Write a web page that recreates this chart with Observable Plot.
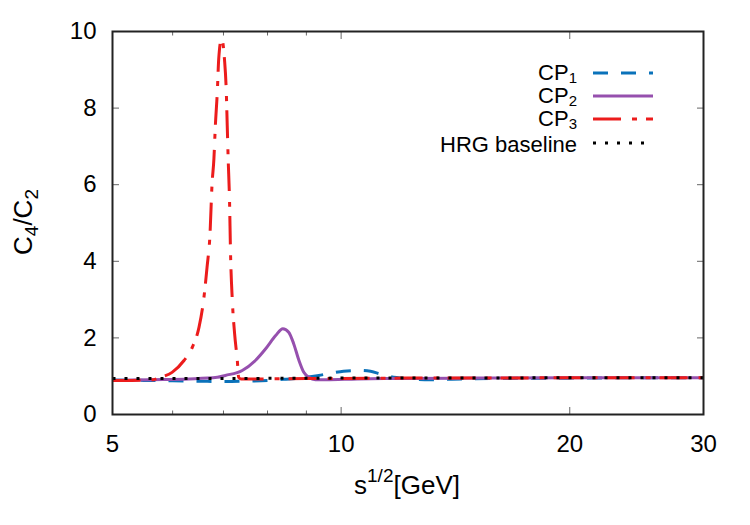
<!DOCTYPE html>
<html>
<head>
<meta charset="utf-8">
<script src="https://cdn.jsdelivr.net/npm/d3@7"></script>
<script src="https://cdn.jsdelivr.net/npm/@observablehq/plot@0.6"></script>
<style>
  html, body { margin: 0; padding: 0; background: #fff; }
  #chart svg { display: block; }
</style>
</head>
<body>
<div id="chart"></div>
<script>
// C4/C2 versus collision energy for three critical-point scenarios and the HRG baseline
const cp1Energy = [5.0, 5.5, 6.0, 6.5, 7.0, 7.5, 8.0, 8.4, 8.84, 9.34, 9.77, 10.07, 10.54, 10.93, 11.2, 11.61, 12.16, 13.1, 14.0, 16.0, 20.0, 25.0, 30.0];
const cp1Ratio  = [0.90, 0.89, 0.88, 0.87, 0.86, 0.87, 0.89, 0.92, 0.95, 1.02, 1.09, 1.13, 1.15, 1.13, 1.07, 0.99, 0.94, 0.91, 0.92, 0.94, 0.95, 0.96, 0.96];

const cp2Energy = [5.0, 5.61, 6.3, 6.87, 7.04, 7.41, 7.71, 7.95, 8.20, 8.38, 8.53, 8.66, 8.80, 8.93, 9.07, 9.25, 9.54, 10.5, 12.0, 15.0, 20.0, 30.0];
const cp2Ratio  = [0.89, 0.91, 0.93, 0.97, 1.02, 1.15, 1.41, 1.71, 2.06, 2.24, 2.15, 1.85, 1.41, 1.10, 0.97, 0.91, 0.91, 0.93, 0.94, 0.95, 0.96, 0.96];

const cp3Energy = [5.0, 5.3, 5.66, 5.78, 5.99, 6.21, 6.37, 6.50, 6.59, 6.66, 6.72, 6.76, 6.80, 6.83, 6.87, 6.90, 6.96, 7.02, 7.06, 7.08, 7.10, 7.13, 7.15, 7.19, 7.24, 7.30, 7.33, 7.38, 8.0, 9.0, 10.0, 12.0, 15.0, 20.0, 30.0];
const cp3Ratio  = [0.89, 0.89, 0.91, 0.97, 1.10, 1.41, 1.76, 2.28, 2.98, 3.85, 4.72, 5.98, 6.68, 7.55, 8.42, 9.29, 9.82, 9.29, 8.42, 7.55, 6.68, 5.56, 4.28, 2.98, 2.11, 1.41, 0.97, 0.93, 0.93, 0.94, 0.94, 0.95, 0.95, 0.96, 0.96];

const hrgEnergy = [5.0, 7.0, 10.0, 15.0, 20.0, 30.0];
const hrgRatio  = [0.94, 0.94, 0.95, 0.95, 0.96, 0.96];

const xMajorTicks = [5, 10, 20, 30];
const xMinorTicks = [6, 7, 8, 9];
const yTicks = [0, 2, 4, 6, 8, 10];
const legendNames = [["CP", "1"], ["CP", "2"], ["CP", "3"], ["HRG baseline", ""]];

const rows = (xs, ys) => xs.map((x, i) => ({x, y: ys[i]}));

// line styles, in legend order
const styles = [
  {stroke: "#0a72ba", dash: "15,13"},
  {stroke: "#9650ae", dash: null},
  {stroke: "#ec1c1c", dash: "28,11,5,9"},
  {stroke: "#000000", dash: "3,9"}
];
const series = [
  rows(cp1Energy, cp1Ratio),
  rows(cp2Energy, cp2Ratio),
  rows(cp3Energy, cp3Ratio),
  rows(hrgEnergy, hrgRatio)
];

const font = "'Liberation Sans', Arial, Helvetica, sans-serif";
const tickColor = "#666";
const blank = () => "";

const chart = Plot.plot({
  width: 750,
  height: 525,
  marginTop: 31,
  marginRight: 47,
  marginBottom: 111,
  marginLeft: 112,
  style: {fontFamily: font, background: "#fff", color: "#000"},
  x: {type: "log", domain: [5, 30]},
  y: {domain: [0, 10]},
  marks: [
    // inward ticks on all four sides
    Plot.axisX(xMajorTicks, {anchor: "bottom", tickSize: -7, tickFormat: blank, label: null, stroke: tickColor}),
    Plot.axisX(xMinorTicks, {anchor: "bottom", tickSize: -3.5, tickFormat: blank, label: null, stroke: tickColor}),
    Plot.axisX(xMajorTicks, {anchor: "top", tickSize: -7, tickFormat: blank, label: null, stroke: tickColor}),
    Plot.axisX(xMinorTicks, {anchor: "top", tickSize: -3.5, tickFormat: blank, label: null, stroke: tickColor}),
    Plot.axisY(yTicks, {anchor: "left", tickSize: -7, tickFormat: blank, label: null, stroke: tickColor}),
    Plot.axisY(yTicks, {anchor: "right", tickSize: -7, tickFormat: blank, label: null, stroke: tickColor}),
    // tick labels
    Plot.axisX(xMajorTicks, {anchor: "bottom", tickSize: 0, tickPadding: 20, fontSize: 24, label: null, tickFormat: d => String(d), fill: "#000"}),
    Plot.axisY(yTicks, {anchor: "left", tickSize: 0, tickPadding: 16, fontSize: 24, label: null, tickFormat: d => String(d), fill: "#000"}),
    // curves
    ...series.map((data, i) => Plot.line(data, {
      x: "x", y: "y",
      stroke: styles[i].stroke,
      strokeWidth: 3,
      strokeDasharray: styles[i].dash,
      strokeLinecap: "butt",
      curve: "monotone-x"
    })),
    Plot.frame({stroke: "#222", strokeWidth: 2})
  ]
});

document.getElementById("chart").append(chart);

const svg = d3.select(chart);

// axis titles with sub/superscripts
const xTitle = svg.append("text")
  .attr("x", 407).attr("y", 494)
  .attr("text-anchor", "middle")
  .attr("font-family", font).attr("font-size", 26).attr("fill", "#000");
xTitle.append("tspan").text("s");
xTitle.append("tspan").attr("font-size", 19).attr("dy", -12).text("1/2");
xTitle.append("tspan").attr("dy", 12).text("[GeV]");

const yTitle = svg.append("text")
  .attr("transform", "translate(32,222) rotate(-90)")
  .attr("text-anchor", "middle")
  .attr("font-family", font).attr("font-size", 26).attr("fill", "#000");
yTitle.append("tspan").text("C");
yTitle.append("tspan").attr("font-size", 19).attr("dy", 6).text("4");
yTitle.append("tspan").attr("dy", -6).text("/C");
yTitle.append("tspan").attr("font-size", 19).attr("dy", 6).text("2");

// legend
const legendRowY = [73, 96, 119, 143];
const legendTextDy = [7, 7, 7, 9];
const legend = svg.append("g").attr("font-family", font).attr("font-size", 22).attr("fill", "#000");
legendNames.forEach(([name, sub], i) => {
  const y = legendRowY[i];
  const t = legend.append("text")
    .attr("x", 577).attr("y", y + legendTextDy[i])
    .attr("text-anchor", "end");
  t.append("tspan").text(name);
  if (sub) t.append("tspan").attr("font-size", 15).attr("dy", 3).text(sub);
  legend.append("line")
    .attr("x1", 593).attr("x2", 653)
    .attr("y1", y).attr("y2", y)
    .attr("stroke", styles[i].stroke)
    .attr("stroke-width", 3)
    .attr("stroke-dasharray", styles[i].dash)
    .attr("stroke-linecap", "butt");
});
</script>
</body>
</html>
